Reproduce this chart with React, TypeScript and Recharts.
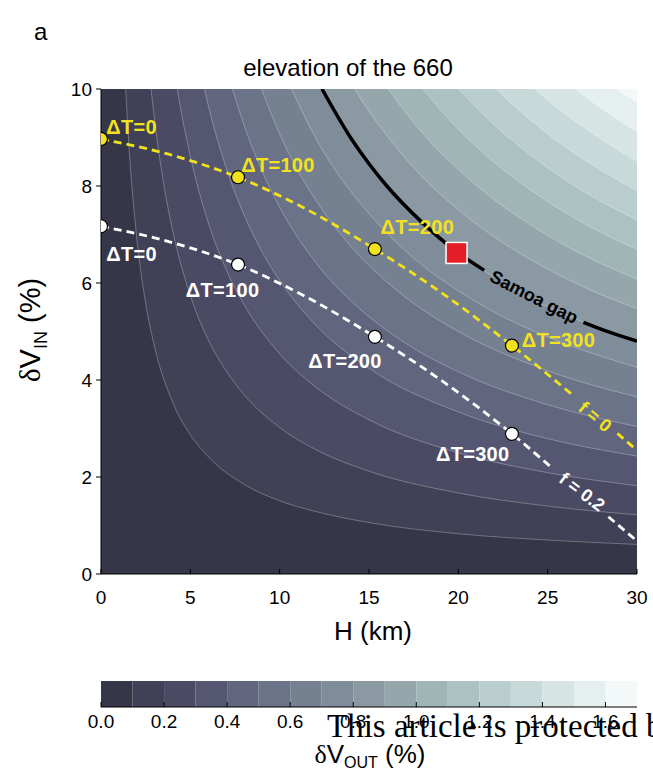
import React from 'react';
import {
  ComposedChart,
  Area,
  Line,
  Scatter,
  XAxis,
  YAxis,
  CartesianGrid,
} from 'recharts';

const SANS = '"Liberation Sans", Arial, Helvetica, sans-serif';
const SERIF = '"Liberation Serif", "Times New Roman", serif';

// dVout colour scale, one colour per 0.1 band (0.0 .. 1.7)
const BAND_COLORS = [
  '#363649',
  '#404056',
  '#4a4a64',
  '#555671',
  '#61657e',
  '#6b7388',
  '#758090',
  '#7f8c99',
  '#8a99a2',
  '#95a7ab',
  '#a0b5b6',
  '#acc2c2',
  '#b9cdce',
  '#c7d9d9',
  '#d6e4e4',
  '#e5efef',
  '#f3f8f9',
];
const BAND_EDGES = [
  0, 0.1, 0.2, 0.3, 0.4, 0.5, 0.6, 0.7, 0.8, 0.9, 1.0, 1.1, 1.2, 1.3, 1.4, 1.5,
  1.6, 1.7,
];
const COLORBAR_TICKS = [0, 0.2, 0.4, 0.6, 0.8, 1.0, 1.2, 1.4, 1.6];
const H_TICKS = [0, 5, 10, 15, 20, 25, 30];
const V_TICKS = [0, 2, 4, 6, 8, 10];

// contour lines of dVout, [H km, dVin %], one per 0.1 step
const c01 = [[1.38, 10], [1.5, 9.2], [2, 6.94], [2.5, 5.58], [3, 4.68], [4, 3.55], [5, 2.87], [6, 2.42], [8, 1.85], [10, 1.51], [12, 1.29], [15, 1.06], [20, 0.83], [25, 0.7], [30, 0.61]];
const c02 = [[2.8, 10], [3, 9.36], [3.5, 8.06], [4, 7.1], [5, 5.74], [6, 4.83], [7, 4.19], [8, 3.7], [10, 3.02], [12, 2.57], [15, 2.12], [20, 1.67], [25, 1.4], [30, 1.22]];
const c03 = [[4.27, 10], [4.5, 9.51], [5, 8.61], [6, 7.25], [7, 6.28], [8, 5.56], [10, 4.54], [12, 3.86], [15, 3.18], [20, 2.5], [25, 2.09], [30, 1.82]];
const c04 = [[5.79, 10], [6, 9.67], [7, 8.38], [8, 7.41], [9, 6.65], [10, 6.05], [12, 5.14], [15, 4.24], [20, 3.34], [25, 2.79], [30, 2.43]];
const c05 = [[7.36, 10], [8, 9.26], [9, 8.32], [10, 7.56], [12, 6.43], [14, 5.63], [17, 4.77], [20, 4.17], [25, 3.49], [30, 3.04]];
const c06 = [[8.98, 10], [10, 9.07], [11, 8.33], [12, 7.72], [14, 6.75], [16, 6.02], [18, 5.45], [20, 5.0], [25, 4.19], [30, 3.65]];
const c07 = [[10.66, 10], [12, 9.0], [13, 8.39], [14, 7.88], [16, 7.03], [18, 6.36], [20, 5.84], [22, 5.4], [25, 4.89], [30, 4.26]];
const c08 = [[12.37, 10], [14, 8.98], [15, 8.46], [16, 8.0], [18, 7.24], [20, 6.62], [22, 6.12], [24, 5.69], [27, 5.19], [30, 4.8]];
const c09 = [[14.2, 10], [15, 9.54], [16, 9.04], [18, 8.18], [20, 7.51], [22, 6.95], [24, 6.49], [27, 5.92], [30, 5.47]];
const c10 = [[16.07, 10], [17, 9.54], [18, 9.09], [20, 8.34], [22, 7.72], [24, 7.21], [26, 6.77], [28, 6.4], [30, 6.08]];
const c11 = [[18.01, 10], [19, 9.57], [20, 9.17], [22, 8.49], [24, 7.93], [26, 7.45], [28, 7.04], [30, 6.69]];
const c12 = [[20.02, 10], [21, 9.62], [22, 9.26], [24, 8.65], [26, 8.12], [28, 7.68], [30, 7.3]];
const c13 = [[22.11, 10], [23, 9.69], [24, 9.37], [26, 8.8], [28, 8.32], [30, 7.9]];
const c14 = [[24.28, 10], [25, 9.77], [26, 9.48], [28, 8.96], [30, 8.51]];
const c15 = [[26.54, 10], [27, 9.87], [28, 9.6], [29, 9.35], [30, 9.12]];
const c16 = [[28.9, 10], [29, 9.97], [30, 9.73]];
const CONTOURS = [c01, c02, c03, c04, c05, c06, c07, c08, c09, c10, c11, c12, c13, c14, c15, c16];

// f = 0 (yellow) and f = 0.2 (white) paths, broken where they are labelled
const f0Path = [[0, 8.97], [3.83, 8.65], [7.67, 8.18], [11.5, 7.52], [15.33, 6.7], [19.17, 5.77], [23, 4.71], [26.4, 3.69]];
const f0Tail = [[28.9, 2.9], [30, 2.55]];
const f02Path = [[0, 7.17], [3.83, 6.85], [7.67, 6.38], [11.5, 5.71], [15.33, 4.89], [19.17, 3.96], [23, 2.89], [25.2, 2.2]];
const f02Tail = [[28.4, 1.18], [30, 0.68]];

// Samoa gap curve, broken round its label
const samoaPath = [[12.37, 10], [14, 8.98], [15, 8.46], [16, 8.0], [18, 7.24], [20, 6.62], [21.45, 6.26]];
const samoaTail = [[27, 5.19], [28.5, 4.98], [30, 4.8]];
const samoaSite = [[19.9, 6.62]];

// dT = 0, 100, 200, 300 markers
const f0Dots = [[0, 8.97], [7.67, 8.18], [15.33, 6.7], [23.0, 4.71]];
const f02Dots = [[0, 7.17], [7.67, 6.38], [15.33, 4.89], [23.0, 2.89]];
const dtNames = ['ΔT=0', 'ΔT=100', 'ΔT=200', 'ΔT=300'];
const f0TagAt = [[0.3, 9.22], [7.85, 8.43], [15.65, 7.15], [23.55, 4.82]];
const f02TagAt = [[0.3, 6.6], [4.75, 5.86], [11.6, 4.39], [18.75, 2.47]];

const toPts = (arr: number[][]) => arr.map(([h, v]) => ({ h, v }));
const toTags = (arr: number[][]) =>
  arr.map(([h, v], i) => ({ h, v, text: dtNames[i] }));

const YELLOW = '#f2e21e';

const dot = (fill: string) => (p: any) => (
  <circle cx={p.cx} cy={p.cy} r={6.5} fill={fill} stroke="#000" strokeWidth={1.2} />
);

const tag = (fill: string) => (p: any) => (
  <text
    x={p.cx}
    y={p.cy}
    fill={fill}
    fontFamily={SANS}
    fontWeight="bold"
    fontSize={20}
    letterSpacing={0.3}
    dominantBaseline="central"
  >
    {p.payload.text}
  </text>
);

const slanted = (text: string, fill: string, angle: number) => (p: any) => (
  <text
    x={p.cx}
    y={p.cy}
    fill={fill}
    fontFamily={SANS}
    fontWeight="bold"
    fontSize={18}
    textAnchor="middle"
    dominantBaseline="central"
    transform={`rotate(${angle} ${p.cx} ${p.cy})`}
  >
    {text}
  </text>
);

const square = (p: any) => (
  <rect
    x={p.cx - 10.5}
    y={p.cy - 10.5}
    width={21}
    height={21}
    fill="#e41e26"
    stroke="#fff"
    strokeWidth={1.5}
  />
);

const tickStyle = { fill: '#000', fontSize: 19, fontFamily: SANS };

const MainPlot = () => (
  <ComposedChart
    width={653}
    height={650}
    margin={{ top: 89, right: 16, bottom: 36, left: 61 }}
  >
    <CartesianGrid
      horizontal={false}
      vertical={false}
      fill={BAND_COLORS[0]}
      fillOpacity={1}
    />
    <XAxis
      dataKey="h"
      type="number"
      domain={[0, 30]}
      ticks={H_TICKS}
      allowDataOverflow
      height={40}
      tickSize={-5}
      tickMargin={22}
      tick={tickStyle}
      stroke="#000"
    />
    <XAxis
      xAxisId="top"
      orientation="top"
      type="number"
      domain={[0, 30]}
      ticks={H_TICKS}
      height={0}
      tickSize={-5}
      tick={false}
      stroke="#000"
    />
    <YAxis
      dataKey="v"
      type="number"
      domain={[0, 10]}
      ticks={V_TICKS}
      allowDataOverflow
      width={40}
      tickSize={5}
      tickMargin={4}
      tick={tickStyle}
      stroke="#000"
    />
    <YAxis
      yAxisId="right"
      orientation="right"
      type="number"
      domain={[0, 10]}
      ticks={V_TICKS}
      width={0}
      tickSize={-5}
      tick={false}
      stroke="#000"
    />
    {CONTOURS.map((c, i) => (
      <Area
        key={`band-${i}`}
        data={toPts(c)}
        dataKey="v"
        type="monotone"
        baseValue="dataMax"
        fill={BAND_COLORS[i + 1]}
        fillOpacity={1}
        stroke="#ffffff"
        strokeOpacity={0.4}
        strokeWidth={0.7}
        dot={false}
        activeDot={false}
        isAnimationActive={false}
      />
    ))}
    {[samoaPath, samoaTail].map((s, i) => (
      <Line
        key={`samoa-${i}`}
        data={toPts(s)}
        dataKey="v"
        type="monotone"
        stroke="#000"
        strokeWidth={3.5}
        dot={false}
        activeDot={false}
        isAnimationActive={false}
      />
    ))}
    {[f0Path, f0Tail].map((s, i) => (
      <Line
        key={`f0-${i}`}
        data={toPts(s)}
        dataKey="v"
        type="monotone"
        stroke={YELLOW}
        strokeWidth={2.8}
        strokeDasharray="8 5"
        dot={false}
        activeDot={false}
        isAnimationActive={false}
      />
    ))}
    {[f02Path, f02Tail].map((s, i) => (
      <Line
        key={`f02-${i}`}
        data={toPts(s)}
        dataKey="v"
        type="monotone"
        stroke="#ffffff"
        strokeWidth={2.8}
        strokeDasharray="8 5"
        dot={false}
        activeDot={false}
        isAnimationActive={false}
      />
    ))}
    <Scatter data={toPts(f0Dots)} shape={dot(YELLOW)} isAnimationActive={false} />
    <Scatter data={toPts(f02Dots)} shape={dot('#ffffff')} isAnimationActive={false} />
    <Scatter data={toPts(samoaSite)} shape={square} isAnimationActive={false} />
    <Scatter data={toTags(f0TagAt)} shape={tag(YELLOW)} isAnimationActive={false} />
    <Scatter data={toTags(f02TagAt)} shape={tag('#ffffff')} isAnimationActive={false} />
    <Scatter
      data={[{ h: 24.23, v: 5.71 }]}
      shape={slanted('Samoa gap', '#000', 27)}
      isAnimationActive={false}
    />
    <Scatter
      data={[{ h: 27.65, v: 3.24 }]}
      shape={slanted('f = 0', YELLOW, 40)}
      isAnimationActive={false}
    />
    <Scatter
      data={[{ h: 26.92, v: 1.69 }]}
      shape={slanted('f = 0.2', '#ffffff', 37)}
      isAnimationActive={false}
    />
  </ComposedChart>
);

const ColorBar = () => (
  <ComposedChart
    width={653}
    height={60}
    margin={{ top: 0, right: 16, bottom: 0, left: 101 }}
  >
    <XAxis
      dataKey="x"
      type="number"
      domain={[0, 1.7]}
      ticks={COLORBAR_TICKS}
      allowDataOverflow
      height={34}
      tickSize={-5}
      tickMargin={13}
      tick={tickStyle}
      tickFormatter={(t: number) => t.toFixed(1)}
      stroke="#000"
    />
    <XAxis
      xAxisId="top"
      orientation="top"
      type="number"
      domain={[0, 1.7]}
      height={0}
      tick={false}
      tickLine={false}
      stroke="#000"
    />
    <YAxis type="number" domain={[0, 1]} width={0} tick={false} tickLine={false} stroke="#000" />
    <YAxis
      yAxisId="right"
      orientation="right"
      type="number"
      domain={[0, 1]}
      width={0}
      tick={false}
      tickLine={false}
      stroke="#000"
    />
    {BAND_COLORS.map((c, i) => (
      <Area
        key={`cb-${i}`}
        data={[
          { x: BAND_EDGES[i], y: 1 },
          { x: BAND_EDGES[i + 1], y: 1 },
        ]}
        dataKey="y"
        type="linear"
        baseValue={0}
        fill={c}
        fillOpacity={1}
        stroke="none"
        dot={false}
        activeDot={false}
        isAnimationActive={false}
      />
    ))}
  </ComposedChart>
);

export default function App() {
  return (
    <div style={{ position: 'relative', width: 653, height: 773, background: '#fff', fontFamily: SANS, overflow: 'hidden' }}>
      <style>{'body{margin:0}'}</style>
      <div style={{ position: 'absolute', left: 0, top: 0 }}>
        <MainPlot />
      </div>
      <div style={{ position: 'absolute', left: 0, top: 681 }}>
        <ColorBar />
      </div>
      <svg
        width={653}
        height={773}
        style={{ position: 'absolute', left: 0, top: 0, pointerEvents: 'none' }}
      >
        <text x={34} y={40} fontSize={24} fontFamily={SANS}>a</text>
        <text x={348} y={76} fontSize={24} fontFamily={SANS} textAnchor="middle">
          elevation of the 660
        </text>
        <text x={373} y={640} fontSize={26} fontFamily={SANS} textAnchor="middle">
          H (km)
        </text>
        <text
          x={30}
          y={340}
          fontSize={29}
          fontFamily={SANS}
          textAnchor="middle"
          transform="rotate(-90 30 330)"
        >
          <tspan fontFamily={SERIF}>δ</tspan>
          <tspan>V</tspan>
          <tspan fontSize={18} dy={7}>IN</tspan>
          <tspan dy={-7}> (%)</tspan>
        </text>
        <text x={370} y={763} fontSize={26} fontFamily={SANS} textAnchor="middle">
          <tspan fontFamily={SERIF}>δ</tspan>
          <tspan>V</tspan>
          <tspan fontSize={16} dy={5}>OUT</tspan>
          <tspan dy={-5}> (%)</tspan>
        </text>
        <text x={327} y={737} fontSize={33} fontFamily={SERIF} fill="#000">
          This article is protected b
        </text>
      </svg>
    </div>
  );
}
